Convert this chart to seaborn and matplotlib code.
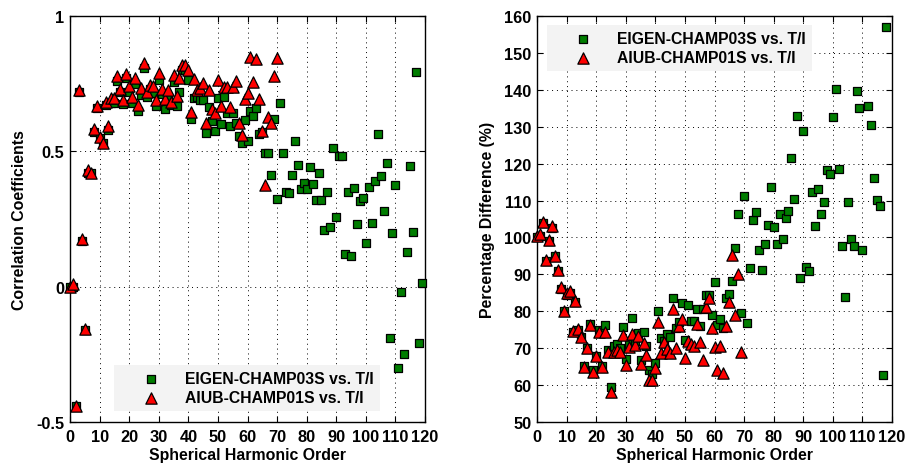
import numpy as np
import pandas as pd
import seaborn as sns
import matplotlib.pyplot as plt

# ---------------- data ----------------
label_eigen = "EIGEN-CHAMP03S vs. T/I"
label_aiub = "AIUB-CHAMP01S vs. T/I"

# Left panel: correlation coefficients
corr_eigen_order = list(range(0, 120))
corr_eigen = [0.0, 0.0, -0.44, 0.72, 0.17, -0.16, 0.42, 0.42, 0.57, 0.66,
              0.55, 0.53, 0.67, 0.58, 0.678, 0.68, 0.76, 0.72, 0.675, 0.77,
              0.72, 0.678, 0.75, 0.648, 0.709, 0.807, 0.70, 0.73, 0.715, 0.666,
              0.762, 0.71, 0.657, 0.70, 0.67, 0.758, 0.669, 0.721, 0.80, 0.80,
              0.764, 0.62, 0.697, 0.70, 0.69, 0.69, 0.568, 0.664, 0.611, 0.574,
              0.697, 0.602, 0.70, 0.642, 0.592, 0.642, 0.605, 0.555, 0.53, 0.614,
              0.539, 0.648, 0.632, 0.659, 0.565, 0.57, 0.495, 0.495, 0.411, 0.619,
              0.323, 0.68, 0.494, 0.349, 0.345, 0.411, 0.539, 0.448, 0.359, 0.383,
              0.362, 0.442, 0.378, 0.319, 0.419, 0.322, 0.208, 0.348, 0.22, 0.512,
              0.256, 0.482, 0.482, 0.122, 0.348, 0.113, 0.364, 0.23, 0.316, 0.327,
              0.16, 0.367, 0.235, 0.389, 0.565, 0.408, 0.28, 0.457, -0.19, 0.198,
              0.377, -0.301, -0.021, -0.248, 0.128, 0.445, 0.201, 0.794, -0.209, 0.012]

corr_aiub_order = list(range(0, 71))
corr_aiub = [0.0, 0.01, -0.44, 0.727, 0.177, -0.157, 0.432, 0.42, 0.583, 0.666,
             0.552, 0.531, 0.684, 0.592, 0.697, 0.697, 0.777, 0.73, 0.69, 0.785,
             0.742, 0.70, 0.77, 0.672, 0.734, 0.826, 0.721, 0.746, 0.74, 0.688,
             0.789, 0.73, 0.693, 0.727, 0.684, 0.783, 0.706, 0.77, 0.82, 0.82,
             0.80, 0.647, 0.767, 0.727, 0.734, 0.752, 0.605, 0.727, 0.656, 0.642,
             0.764, 0.668, 0.737, 0.737, 0.664, 0.737, 0.76, 0.605, 0.56, 0.693,
             0.717, 0.85, 0.758, 0.84, 0.693, 0.574, 0.377, 0.627, 0.605, 0.779,
             0.844]

# Right panel: percentage difference (%)
pct_eigen_order = list(range(0, 111)) + [112, 113, 114, 115, 116, 117, 118]
pct_eigen = [100.0, 100.5, 104.0, 93.5, 99.0, 102.5, 95.0, 91.0, 86.0, 80.0,
             84.5, 85.0, 74.5, 82.5, 75.0, 73.0, 65.3, 70.0, 76.5, 64.0,
             68.0, 75.0, 65.3, 76.3, 69.5, 59.5, 70.5, 71.0, 70.0, 75.7,
             67.1, 71.0, 78.2, 72.0, 74.0, 66.7, 74.5, 70.6, 64.2, 63.0,
             66.0, 80.0, 72.7, 72.0, 73.9, 73.0, 83.6, 75.4, 77.0, 82.3,
             72.1, 81.6, 77.5, 77.5, 80.7, 76.0, 80.5, 84.4, 84.4, 79.0,
             87.9, 76.3, 77.8, 75.4, 83.6, 84.8, 88.2, 97.1, 106.4, 79.6,
             111.3, 76.9, 91.7, 104.8, 106.8, 96.7, 91.3, 98.2, 103.4, 113.7,
             102.8, 98.2, 106.4, 99.6, 105.4, 107.2, 121.6, 110.4, 132.9, 89.0,
             128.8, 92.1, 91.0, 112.4, 103.0, 113.1, 106.4, 109.7, 118.3, 117.3,
             132.7, 140.2, 118.5, 97.8, 83.9, 109.7, 99.6, 97.8, 139.6, 135.1,
             96.7, 135.7, 130.5, 116.2, 110.2, 108.6, 62.8, 157.1]

pct_aiub_order = list(range(0, 70))
pct_aiub = [100.5, 101.0, 104.2, 93.9, 99.4, 103.0, 95.1, 91.2, 86.5, 80.2,
            85.0, 85.6, 74.6, 82.8, 75.1, 73.0, 64.9, 70.0, 76.3, 63.5,
            67.8, 74.5, 64.9, 74.5, 69.0, 58.1, 69.1, 69.5, 69.0, 73.7,
            65.5, 70.3, 73.9, 70.9, 73.4, 65.6, 71.5, 68.2, 61.5, 61.5,
            64.7, 77.1, 68.8, 71.7, 69.7, 68.8, 80.5, 70.0, 76.1, 78.0,
            67.3, 72.0, 71.2, 70.5, 76.5, 71.7, 66.8, 81.1, 83.6, 75.4,
            70.3, 64.0, 70.6, 63.3, 76.1, 82.5, 95.3, 79.0, 90.0, 69.0]

x_ticks = [0, 10, 20, 30, 40, 50, 60, 70, 80, 90, 100, 110, 120]
left_y_ticks = [-0.5, 0, 0.5, 1]
left_y_ticklabels = ["-0.5", "0", "0.5", "1"]
right_y_ticks = [50, 60, 70, 80, 90, 100, 110, 120, 130, 140, 150, 160]

# ---------------- style ----------------
sns.set_theme(style="white")
plt.rcParams['font.family'] = ['Liberation Sans', 'DejaVu Sans']
plt.rcParams['font.weight'] = 'bold'
plt.rcParams['axes.labelweight'] = 'bold'
plt.rcParams['text.color'] = 'black'
plt.rcParams['axes.labelcolor'] = 'black'
plt.rcParams['xtick.color'] = 'black'
plt.rcParams['ytick.color'] = 'black'

green = "#007d00"
red = "#ff0000"

fig = plt.figure(figsize=(9.08, 4.64), dpi=100)
ax1 = fig.add_axes([70 / 908, 41 / 464, 355 / 908, 406 / 464])
ax2 = fig.add_axes([537 / 908, 41 / 464, 355 / 908, 406 / 464])


def draw(ax, xe, ye, xa, ya):
    de = pd.DataFrame({"order": xe, "value": ye})
    da = pd.DataFrame({"order": xa, "value": ya})
    sns.scatterplot(data=de, x="order", y="value", ax=ax, marker="s", s=34,
                    color=green, edgecolor="black", linewidth=0.9,
                    label=label_eigen, zorder=3, clip_on=False)
    sns.scatterplot(data=da, x="order", y="value", ax=ax, marker="^", s=66,
                    color=red, edgecolor="black", linewidth=0.9,
                    label=label_aiub, zorder=4, clip_on=False)
    ax.set_xlim(0, 120)
    ax.set_xticks(x_ticks)
    ax.grid(True, linestyle=(0, (1, 4)), color="black", linewidth=0.7)
    ax.set_axisbelow(True)
    for sp in ax.spines.values():
        sp.set_color("black")
        sp.set_linewidth(1.0)
    ax.tick_params(direction="in", top=True, right=True, bottom=True, left=True,
                   length=4, width=0.8, labelsize=11.8, colors="black")
    ax.tick_params(axis="x", pad=5)
    ax.tick_params(axis="y", pad=4)
    ax.set_xlabel("Spherical Harmonic Order", fontsize=11.4, color="black")
    ax.xaxis.set_label_coords(0.5, -0.062)


draw(ax1, corr_eigen_order, corr_eigen, corr_aiub_order, corr_aiub)
draw(ax2, pct_eigen_order, pct_eigen, pct_aiub_order, pct_aiub)

ax1.set_ylim(-0.5, 1)
ax1.set_yticks(left_y_ticks)
ax1.set_yticklabels(left_y_ticklabels)
ax1.set_ylabel("Correlation Coefficients", fontsize=11.4, color="black")
ax1.yaxis.set_label_coords(-0.122, 0.5)

ax2.set_ylim(50, 160)
ax2.set_yticks(right_y_ticks)
ax2.set_ylabel("Percentage Difference (%)", fontsize=11.4, color="black")
ax2.yaxis.set_label_coords(-0.118, 0.5)

leg_kw = dict(frameon=True, facecolor="#f3f3f3", edgecolor="none", framealpha=1,
              fontsize=11.3, handletextpad=0.2, borderpad=0.4, labelspacing=0.25,
              fancybox=False, borderaxespad=0, handlelength=3.9, labelcolor="black")
l1 = ax1.legend(loc="lower left", bbox_to_anchor=(0.124, 0.027), **leg_kw)
l2 = ax2.legend(loc="upper left", bbox_to_anchor=(0.027, 0.978), **leg_kw)

fig.savefig("out.png", dpi=100)
